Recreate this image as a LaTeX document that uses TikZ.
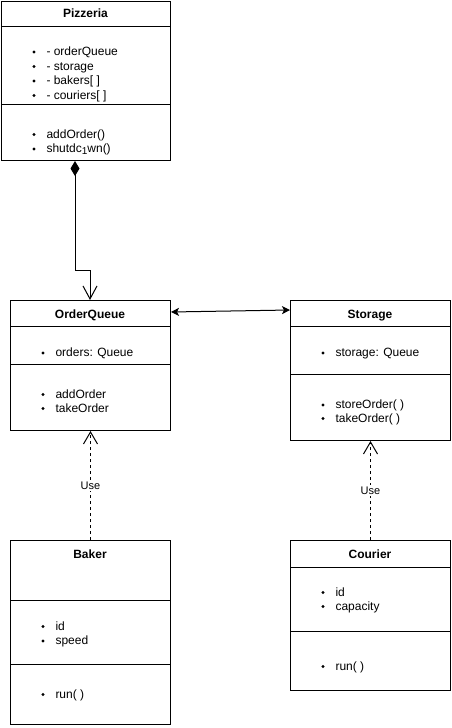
\documentclass[tikz,border=0pt]{standalone}
\usepackage{fontspec}
\setmainfont{Liberation Sans}
\usetikzlibrary{arrows.meta}

% one attribute/operation line: bullet + text (node name, box left x, baseline y, text)
\newcommand{\classrow}[4]{%
  \fill (#2+33,#3-3.5) circle[radius=1.7];
  \node[rowtext] (#1) at (#2+45,#3) {#4};}

\begin{document}
\begin{tikzpicture}[x=0.75pt,y=-0.75pt,line width=0.75pt,
  classbox/.style={draw, anchor=north west, inner sep=0pt},
  ctitle/.style={anchor=base, inner sep=0pt, font=\fontsize{9}{10.8}\selectfont\bfseries},
  rowtext/.style={anchor=base west, inner sep=0pt, font=\fontsize{9}{10.8}\selectfont},
  uselabel/.style={fill=white, inner sep=1pt, font=\fontsize{8.25}{9.9}\selectfont},
  composition/.style={{Diamond[length=11.25pt,width=6.75pt]}-{Straight Barb[length=9.75pt,width=10.5pt]}},
  association/.style={{Stealth[length=6pt,width=6pt,inset=1.5pt]}-{Stealth[length=6pt,width=6pt,inset=1.5pt]}},
  usage/.style={dash pattern=on 2.25pt off 2.25pt, -{Straight Barb[length=9pt,width=10.5pt]}}]
\useasboundingbox (0,0) rectangle (451,728);

% ---------- Pizzeria ----------
\node[classbox, minimum width=126.75pt, minimum height=119.25pt] (pizzeria) at (1,1) {};
\draw (pizzeria.north west) ++(0,25) -- ++(169,0);
\draw (pizzeria.north west) ++(0,103) -- ++(169,0);
\node[ctitle] (pizzeria-t) at (85.5,17.5) {Pizzeria};
\classrow{pz-a1}{1}{55.5}{- orderQueue}
\classrow{pz-a2}{1}{70}{- storage}
\classrow{pz-a3}{1}{84.5}{- bakers[ ]}
\classrow{pz-a4}{1}{99}{- couriers[ ]}
\classrow{pz-m1}{1}{138}{addOrder()}
\classrow{pz-m2}{1}{152.5}{shutdc\raisebox{-1.8pt}{\fontsize{7.5}{9}\selectfont 1}wn()}

% ---------- OrderQueue ----------
\node[classbox, minimum width=120pt, minimum height=97.5pt] (orderqueue) at (10,300) {};
\draw (orderqueue.north west) ++(0,26) -- ++(160,0);
\draw (orderqueue.north west) ++(0,64) -- ++(160,0);
\node[ctitle] (orderqueue-t) at (90,318) {OrderQueue};
\classrow{oq-a1}{10}{356.5}{orders: Queue}
\classrow{oq-m1}{10}{398}{addOrder}
\classrow{oq-m2}{10}{412}{takeOrder}

% ---------- Storage ----------
\node[classbox, minimum width=120pt, minimum height=105pt] (storage) at (290,300) {};
\draw (storage.north west) ++(0,26) -- ++(160,0);
\draw (storage.north west) ++(0,74) -- ++(160,0);
\node[ctitle] (storage-t) at (370,318) {Storage};
\classrow{st-a1}{290}{356.5}{storage: Queue}
\classrow{st-m1}{290}{408.5}{storeOrder( )}
\classrow{st-m2}{290}{422}{takeOrder( )}

% ---------- Baker ----------
\node[classbox, minimum width=120pt, minimum height=138pt] (baker) at (10,540) {};
\draw (baker.north west) ++(0,60) -- ++(160,0);
\draw (baker.north west) ++(0,124) -- ++(160,0);
\node[ctitle] (baker-t) at (90,558) {Baker};
\classrow{bk-a1}{10}{630}{id}
\classrow{bk-a2}{10}{644.5}{speed}
\classrow{bk-m1}{10}{698}{run( )}

% ---------- Courier ----------
\node[classbox, minimum width=120pt, minimum height=112.5pt] (courier) at (290,540) {};
\draw (courier.north west) ++(0,27) -- ++(160,0);
\draw (courier.north west) ++(0,91) -- ++(160,0);
\node[ctitle] (courier-t) at (370,558) {Courier};
\classrow{cr-a1}{290}{596}{id}
\classrow{cr-a2}{290}{610}{capacity}
\classrow{cr-m1}{290}{670}{run( )}

% ---------- connectors ----------
\coordinate (bend1) at (75,270);
\coordinate (bend2) at (90,270);
\draw[composition] (pizzeria.south -| bend1) -- (bend1) -- (bend2) -- (orderqueue.north -| bend2);

\coordinate (assocL) at (0,312);
\coordinate (assocR) at (0,310);
\draw[association] (orderqueue.east |- assocL) -- (storage.west |- assocR);

\draw[usage] (baker.north) -- node[uselabel] (use1) {Use} (orderqueue.south);
\draw[usage] (courier.north) -- node[uselabel] (use2) {Use} (storage.south);
\end{tikzpicture}
\end{document}
